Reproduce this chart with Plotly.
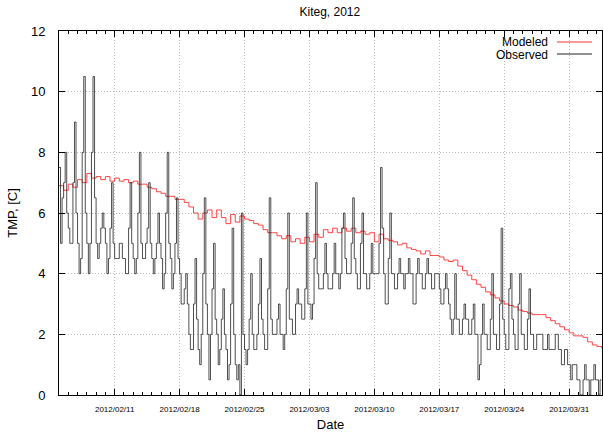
import pandas as pd
import plotly.graph_objects as go

# Observed temperature, 4-hourly values starting 2012-02-05 00:00 (one row per day)
obs_values = [
    7.5, 5.0, 6.5, 7.0, 8.0, 6.0,   # 02/05
    5.5, 5.0, 5.0, 7.0, 9.0, 6.0,   # 02/06
    5.0, 4.0, 4.5, 8.0, 10.5, 6.0,  # 02/07
    5.0, 4.0, 5.0, 8.0, 10.5, 6.5,  # 02/08
    5.0, 4.5, 5.0, 5.5, 6.0, 5.5,   # 02/09
    5.0, 4.0, 4.5, 5.5, 7.0, 5.0,   # 02/10
    4.5, 4.5, 4.5, 5.0, 5.0, 4.5,   # 02/11
    4.5, 4.0, 4.0, 5.5, 7.0, 5.0,   # 02/12
    4.5, 4.0, 4.5, 6.0, 8.0, 5.0,   # 02/13
    4.5, 4.5, 5.0, 5.5, 7.0, 5.0,   # 02/14
    4.5, 4.0, 4.5, 5.0, 6.0, 5.0,   # 02/15
    4.5, 3.5, 4.0, 6.0, 8.0, 5.0,   # 02/16
    4.5, 3.5, 4.0, 5.0, 6.5, 4.5,   # 02/17
    4.0, 3.0, 3.0, 3.5, 4.0, 3.0,   # 02/18
    2.0, 1.5, 1.5, 3.0, 4.5, 2.5,   # 02/19
    1.5, 1.0, 2.0, 4.0, 6.5, 3.0,   # 02/20
    2.0, 0.5, 2.0, 3.5, 5.0, 2.5,   # 02/21
    2.0, 1.0, 1.5, 2.5, 3.5, 2.0,   # 02/22
    1.5, 0.5, 1.0, 3.0, 5.5, 2.0,   # 02/23
    1.0, 0.5, 1.0, 0.0, 6.0, 2.0,   # 02/24
    1.5, 1.0, 1.5, 2.5, 4.0, 2.0,   # 02/25
    1.5, 1.5, 2.0, 3.0, 4.5, 2.5,   # 02/26
    2.0, 1.5, 1.5, 3.5, 6.5, 2.5,   # 02/27
    2.0, 2.0, 2.0, 2.5, 3.0, 2.0,   # 02/28
    2.0, 1.5, 2.0, 3.5, 6.0, 2.5,   # 02/29
    2.5, 2.0, 2.0, 3.0, 3.5, 3.0,   # 03/01
    3.0, 2.5, 2.5, 3.5, 6.0, 3.0,   # 03/02
    3.0, 2.5, 3.0, 4.5, 7.0, 4.0,   # 03/03
    3.5, 3.5, 3.5, 4.0, 5.0, 4.0,   # 03/04
    3.5, 3.5, 3.5, 4.0, 5.0, 4.0,   # 03/05
    4.0, 3.5, 4.0, 5.5, 6.0, 4.5,   # 03/06
    4.0, 4.0, 4.0, 5.0, 6.5, 4.5,   # 03/07
    4.0, 3.5, 3.5, 5.0, 6.0, 4.0,   # 03/08
    4.0, 3.5, 3.5, 4.0, 5.0, 4.0,   # 03/09
    4.0, 4.0, 4.0, 5.0, 7.5, 5.5,   # 03/10
    4.0, 3.0, 3.0, 4.5, 6.0, 4.0,   # 03/11
    4.0, 3.5, 3.5, 4.0, 4.5, 4.0,   # 03/12
    4.0, 3.5, 4.0, 4.0, 4.5, 4.0,   # 03/13
    4.0, 3.0, 3.0, 4.0, 4.5, 4.0,   # 03/14
    4.0, 3.5, 3.5, 4.0, 4.5, 4.0,   # 03/15
    4.0, 3.5, 3.5, 4.0, 4.0, 4.0,   # 03/16
    3.5, 3.0, 3.0, 3.5, 4.0, 3.5,   # 03/17
    3.0, 2.5, 2.0, 2.5, 4.0, 2.5,   # 03/18
    2.5, 2.0, 2.0, 2.5, 3.0, 2.5,   # 03/19
    2.5, 2.0, 2.0, 2.5, 3.0, 2.0,   # 03/20
    2.0, 0.5, 1.0, 2.0, 3.0, 2.0,   # 03/21
    2.0, 1.5, 1.5, 2.5, 4.0, 2.0,   # 03/22
    2.0, 1.5, 1.5, 3.0, 5.5, 2.5,   # 03/23
    2.0, 1.5, 1.5, 3.5, 4.0, 2.5,   # 03/24
    2.0, 1.5, 1.5, 3.0, 4.0, 2.0,   # 03/25
    2.0, 1.5, 1.5, 2.5, 3.5, 2.0,   # 03/26
    2.0, 1.5, 1.5, 2.0, 2.0, 2.0,   # 03/27
    2.0, 1.5, 1.5, 1.5, 2.0, 1.5,   # 03/28
    1.5, 1.5, 1.5, 2.0, 2.0, 1.5,   # 03/29
    1.5, 1.0, 1.0, 1.5, 1.5, 1.0,   # 03/30
    1.0, 0.5, 1.0, 1.0, 1.0, 0.5,   # 03/31
    0.5, 0.0, 0.0, 0.5, 1.0, 0.5,   # 04/01
    0.5, 0.0, 0.5, 0.5, 1.0, 0.5,   # 04/02
    0.5, 0.0, 0.5, 0.5,             # 04/03
]

# Modeled temperature, 12-hourly values starting 2012-02-05 00:00
mod_values = [
    6.9, 6.75, 6.95, 6.85, 7.1, 7.0, 7.3, 7.15, 7.2, 7.1,
    7.2, 7.05, 7.15, 7.05, 7.1, 7.0, 7.05, 6.95, 6.95, 6.85,
    6.8, 6.7, 6.65, 6.55, 6.55, 6.45, 6.45, 6.35, 6.2, 6.0,
    5.8, 6.0, 6.1, 5.85, 6.1, 5.85, 5.65, 5.95, 5.7, 5.9,
    5.8, 5.75, 5.65, 5.6, 5.45, 5.35, 5.35, 5.25, 5.15, 5.25,
    5.05, 5.15, 5.0, 5.2, 5.05, 5.3, 5.2, 5.45, 5.35, 5.5,
    5.35, 5.5, 5.4, 5.5, 5.35, 5.4, 5.3, 5.35, 5.05, 5.3,
    5.15, 5.1, 5.05, 4.95, 5.0, 4.85, 4.8, 4.75, 4.65, 4.75,
    4.6, 4.6, 4.55, 4.45, 4.4, 4.45, 4.25, 4.1, 3.95, 3.8,
    3.65, 3.55, 3.4, 3.3, 3.2, 3.1, 3.0, 2.95, 2.9, 2.8,
    2.75, 2.7, 2.65, 2.65, 2.65, 2.55, 2.45, 2.35, 2.25, 2.15,
    2.05, 1.95, 1.95, 1.9, 1.75, 1.65, 1.6, 1.55, 1.55,
]

start = "2012-02-05 00:00"
obs_time = pd.date_range(start, periods=len(obs_values), freq="4h")
mod_time = pd.date_range(start, periods=len(mod_values), freq="12h")

FONT = "Liberation Sans, Arial, Helvetica, sans-serif"
RED = "#ff3030"
BLK = "#222222"

fig = go.Figure()
fig.add_trace(go.Scatter(
    x=mod_time, y=mod_values, mode="lines", name="Modeled",
    line=dict(color=RED, width=0.9, shape="hv"), showlegend=False))
fig.add_trace(go.Scatter(
    x=obs_time, y=obs_values, mode="lines", name="Observed",
    line=dict(color=BLK, width=0.8, shape="hv"), showlegend=False))

# custom gnuplot-like legend (text left of line sample)
leg = [("Modeled", RED, 0.9698), ("Observed", BLK, 0.9368)]
for name, col, yy in leg:
    fig.add_annotation(x=0.9024, y=yy, xref="paper", yref="paper", text=name,
                       showarrow=False, xanchor="right", yanchor="middle",
                       height=11, borderpad=0,
                       font=dict(family=FONT, size=12, color="#000"))
    fig.add_shape(type="line", xref="paper", yref="paper", x0=0.917, x1=0.9816,
                  y0=yy, y1=yy, line=dict(color=col, width=1))

fig.update_layout(
    width=603, height=432,
    margin=dict(l=59, r=1, t=31, b=37),
    paper_bgcolor="white", plot_bgcolor="white",
    font=dict(family=FONT, size=12, color="#000"),
    title=dict(text="Kiteg, 2012", x=0.547, xanchor="center", y=0.972, yanchor="middle",
               font=dict(family=FONT, size=12)),
)
GRID = "#b8b8b8"
GDASH = "1px,2px"
fig.update_xaxes(
    type="date",
    range=["2012-02-05 00:00", "2012-04-03 13:00"],
    tick0="2012-02-11", dtick=7 * 86400000, tickformat="%Y/%m/%d",
    ticks="inside", ticklen=6, tickcolor="#000",
    tickfont=dict(family=FONT, size=8),
    ticklabelstandoff=6,
    showgrid=True, gridcolor=GRID, griddash=GDASH, gridwidth=1,
    showline=True, linecolor="#000", linewidth=1, mirror="ticks",
    minor=dict(dtick=86400000, ticks="inside", ticklen=3, tickcolor="#000", showgrid=False),
    title=dict(text="Date", font=dict(family=FONT, size=13), standoff=8),
    zeroline=False,
)
fig.update_yaxes(
    range=[0, 12], dtick=2, tick0=0,
    ticks="inside", ticklen=6, tickcolor="#000",
    tickfont=dict(family=FONT, size=13),
    ticklabelstandoff=10,
    showgrid=True, gridcolor=GRID, griddash=GDASH, gridwidth=1,
    showline=True, linecolor="#000", linewidth=1, mirror="ticks",
    title=dict(text="TMP, [C]", font=dict(family=FONT, size=13), standoff=10),
    zeroline=False,
)

fig.write_html("out.html")
